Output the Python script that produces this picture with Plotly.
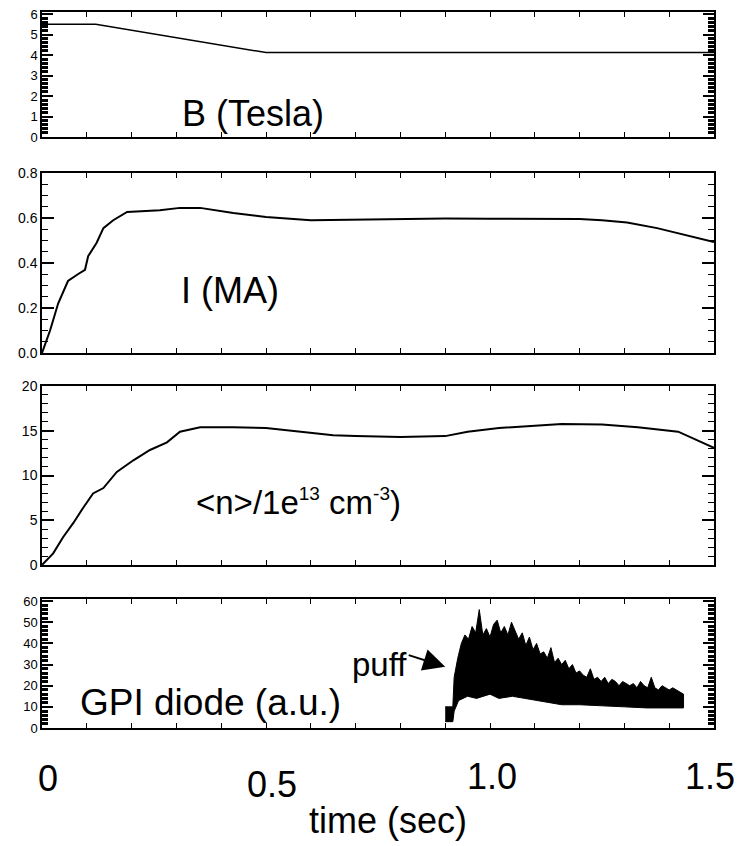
import plotly.graph_objects as go

# ---------------- data ----------------
t_B = [0.0, 0.12, 0.5, 1.5]
B_tesla = [5.5, 5.5, 4.12, 4.12]

t_I = [0, 0.018, 0.036, 0.058, 0.08, 0.096, 0.103, 0.122, 0.137, 0.159, 0.19,
       0.263, 0.308, 0.353, 0.427, 0.5, 0.6, 0.7, 0.8, 0.9, 1.0, 1.1, 1.2,
       1.25, 1.306, 1.373, 1.417, 1.462, 1.5]
I_MA = [0, 0.10, 0.22, 0.32, 0.35, 0.37, 0.43, 0.49, 0.555, 0.59, 0.627,
        0.635, 0.645, 0.645, 0.622, 0.605, 0.59, 0.592, 0.597, 0.598, 0.597,
        0.597, 0.596, 0.59, 0.58, 0.555, 0.533, 0.51, 0.493]

t_n = [0, 0.025, 0.047, 0.07, 0.092, 0.114, 0.137, 0.167, 0.204, 0.241,
       0.279, 0.308, 0.353, 0.427, 0.5, 0.576, 0.65, 0.7, 0.8, 0.9, 0.95,
       1.02, 1.1, 1.16, 1.25, 1.33, 1.42, 1.46, 1.5]
n_e13 = [0, 1.3, 3.1, 4.7, 6.4, 8.0, 8.6, 10.4, 11.7, 12.85, 13.7, 14.9,
         15.4, 15.4, 15.3, 14.9, 14.5, 14.4, 14.3, 14.4, 14.9, 15.3, 15.6,
         15.75, 15.7, 15.4, 14.9, 14.0, 13.1]

# GPI diode: upper and lower envelope of the dense signal
gpi_t_up = [0.900, 0.917, 0.920, 0.928, 0.936, 0.944, 0.952, 0.960, 0.968,
            0.976, 0.984, 0.992, 1.000, 1.008, 1.016, 1.024, 1.032, 1.040,
            1.048, 1.056, 1.064, 1.072, 1.080, 1.088, 1.096, 1.104, 1.112,
            1.120, 1.128, 1.136, 1.144, 1.152, 1.160, 1.168, 1.176, 1.184,
            1.192, 1.200, 1.208, 1.216, 1.224, 1.232, 1.240, 1.248, 1.256,
            1.264, 1.272, 1.280, 1.288, 1.296, 1.304, 1.312, 1.320, 1.328,
            1.336, 1.344, 1.352, 1.360, 1.368, 1.376, 1.384, 1.392, 1.400,
            1.408, 1.416, 1.424, 1.432]
gpi_up = [10, 10, 24, 33, 40, 44, 42, 48, 45, 56, 44, 47, 43, 49, 51, 45,
          48, 44, 50, 46, 42, 45, 39, 43, 37, 40, 35, 36, 33, 38, 31, 33, 30,
          32, 28, 30, 26, 27, 25, 24, 28, 23, 24, 22, 24, 21, 23, 22, 20, 22,
          21, 20, 21, 19, 22, 20, 19, 24, 19, 18, 20, 19, 18, 19, 18, 17, 16]
gpi_t_lo = [0.900, 0.917, 0.920, 0.930, 0.950, 0.970, 1.000, 1.020, 1.050,
            1.080, 1.100, 1.130, 1.160, 1.200, 1.250, 1.300, 1.350, 1.432]
gpi_lo = [3, 3, 8, 13, 15, 14, 16, 14, 15, 14, 13, 12, 11, 11, 10.5, 10,
          9.5, 9.5]

x_tick_vals = [0, 0.5, 1.0, 1.5]
x_tick_text = ["0", "0.5", "1.0", "1.5"]

# ---------------- layout helpers ----------------
OFF = 8                      # page body margin
W, H = 742 - OFF, 846 - OFF  # figure size inside the window
def px(p):
    return (p - OFF) / W
def py(p):
    return 1 - (p - OFF) / H

XDOM = [px(42), px(714)]
panels = [  # (top px, bottom px) in window pixels
    (12, 137), (173, 353), (386, 565), (599, 728)
]

fig = go.Figure()

line = dict(color="black", width=2)
fig.add_trace(go.Scatter(x=t_B, y=B_tesla, mode="lines", line=dict(color="black", width=1.5),
                         xaxis="x", yaxis="y", hoverinfo="skip"))
fig.add_trace(go.Scatter(x=t_I, y=I_MA, mode="lines", line=line,
                         xaxis="x2", yaxis="y2", hoverinfo="skip"))
fig.add_trace(go.Scatter(x=t_n, y=n_e13, mode="lines", line=line,
                         xaxis="x3", yaxis="y3", hoverinfo="skip"))
poly_x = gpi_t_up + gpi_t_lo[::-1]
poly_y = gpi_up + gpi_lo[::-1]
fig.add_trace(go.Scatter(x=poly_x, y=poly_y, mode="lines", fill="toself",
                         fillcolor="black", line=dict(color="black", width=1),
                         xaxis="x4", yaxis="y4", hoverinfo="skip"))

tickfont = dict(family="Liberation Sans, Arial, sans-serif", size=14, color="black")

def xaxis(i, anchor):
    return dict(domain=XDOM, anchor=anchor, range=[0, 1.5], tick0=0, dtick=0.1,
                ticks="inside", ticklen=5, tickwidth=1.3, tickcolor="black",
                showticklabels=False, showline=True, linecolor="black",
                linewidth=1.5, mirror="ticks", showgrid=False, zeroline=False,
                automargin=False)

def yaxis(i, anchor, rng, dtick, minor_dtick, major_len, minor_len, minor_w,
          fsize=14, fmt=None):
    top, bot = panels[i]
    d = dict(domain=[py(bot), py(top)], anchor=anchor, range=rng, tick0=0,
             dtick=dtick, ticks="inside", ticklen=major_len, tickwidth=1.5,
             tickcolor="black", showline=True, linecolor="black",
             linewidth=1.5, mirror="ticks", showgrid=False, zeroline=False,
             automargin=False, ticklabeloverflow="allow",
             tickfont=dict(tickfont, size=fsize),
             minor=dict(dtick=minor_dtick, tick0=0, ticks="inside",
                        ticklen=minor_len, tickwidth=minor_w,
                        tickcolor="black", showgrid=False))
    if fmt:
        d["tickformat"] = fmt
    return d

fig.update_layout(
    width=W, height=H, margin=dict(l=0, r=0, t=0, b=0, pad=0),
    paper_bgcolor="white", plot_bgcolor="white", showlegend=False,
    xaxis=xaxis(0, "y"), xaxis2=xaxis(1, "y2"),
    xaxis3=xaxis(2, "y3"), xaxis4=xaxis(3, "y4"),
    yaxis=yaxis(0, "x", [0, 6.1], 1, 0.2, 11, 6, 2.5, fsize=13),
    yaxis2=yaxis(1, "x2", [0, 0.8], 0.2, 0.05, 12, 6, 1.2, fmt=".1f"),
    yaxis3=yaxis(2, "x3", [0, 20], 5, 1, 12, 6, 1.2),
    yaxis4=yaxis(3, "x4", [0, 61], 10, 2, 11, 6, 2.5, fsize=13),
)

big = dict(family="Liberation Sans, Arial, sans-serif", size=36, color="black")
ann = []
ann.append(dict(xref="paper", yref="paper", x=px(253), y=py(113), text="B (Tesla)",
                showarrow=False, font=big, xanchor="center", yanchor="middle"))
ann.append(dict(xref="paper", yref="paper", x=px(230), y=py(290), text="I (MA)",
                showarrow=False, font=big, xanchor="center", yanchor="middle"))
ann.append(dict(xref="paper", yref="paper", x=px(298), y=py(502),
                text="&lt;n&gt;/1e<sup><span style='font-size:19px'>13</span></sup>"
                     " cm<sup><span style='font-size:19px'>-3</span></sup>)",
                showarrow=False, font=dict(big, size=33), xanchor="center",
                yanchor="middle"))
ann.append(dict(xref="paper", yref="paper", x=px(211), y=py(702), text="GPI diode (a.u.)",
                showarrow=False, font=dict(big, size=37), xanchor="center",
                yanchor="middle"))
ann.append(dict(xref="paper", yref="paper", x=px(379), y=py(664), text="puff",
                showarrow=False, font=dict(big, size=33), xanchor="center",
                yanchor="middle"))
ann.append(dict(xref="x4", yref="y4", x=0.9, y=29, ax=-38, ay=-12, text="",
                showarrow=True, arrowhead=2, arrowsize=2.2, arrowwidth=2,
                arrowcolor="black", standoff=0))

lab = dict(family="Liberation Sans, Arial, sans-serif", size=36, color="black")
x_shift = [6, 6, 2, -4]
y_pix = [778, 784, 776, 776]
for v, txt, sh, yp in zip(x_tick_vals, x_tick_text, x_shift, y_pix):
    ann.append(dict(xref="x4", yref="paper", x=v, y=py(yp), text=txt, xshift=sh,
                    showarrow=False, font=lab, xanchor="center", yanchor="middle"))
ann.append(dict(xref="paper", yref="paper", x=px(388), y=py(820), text="time (sec)",
                showarrow=False, font=lab, xanchor="center", yanchor="middle"))
fig.update_layout(annotations=ann)

fig.write_html("out.html")
